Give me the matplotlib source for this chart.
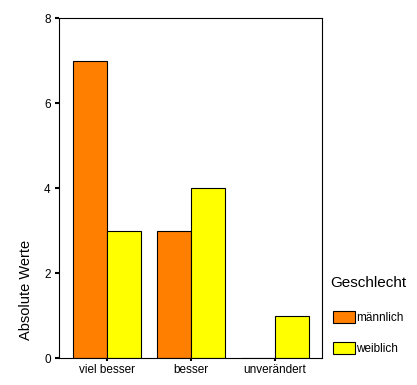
import matplotlib
matplotlib.use("Agg")
import matplotlib.pyplot as plt
from matplotlib.patches import Patch
import numpy as np

categories = ["viel besser", "besser", "unverändert"]
maennlich = [7, 3, 0]
weiblich = [3, 4, 1]
yticks = [0, 2, 4, 6, 8]

plt.rcParams["font.family"] = ["Liberation Sans", "DejaVu Sans"]

fig = plt.figure(figsize=(4.17, 3.85), dpi=100)
ax = fig.add_axes([0.1415, 0.0701, 0.6300, 0.8831])

x = np.arange(len(categories))
w = 0.405
ax.bar(x - w / 2, maennlich, w, color="#FF7F00", edgecolor="black", linewidth=0.8)
ax.bar(x + w / 2, weiblich, w, color="#FFFF00", edgecolor="black", linewidth=0.8)

ax.set_xlim(-0.571, 2.56)
ax.set_ylim(0, 8)
ax.set_xticks(x)
ax.set_xticklabels(categories, fontsize=8.5)
ax.set_yticks(yticks)
ax.set_yticklabels([str(v) for v in yticks], fontsize=8.5)
ax.tick_params(axis="y", length=3, width=1.5, pad=3)
ax.tick_params(axis="x", length=2, width=1.5, pad=2)
for s in ax.spines.values():
    s.set_linewidth(0.8)

ax.set_ylabel("Absolute Werte", fontsize=10.5)
ax.yaxis.set_label_coords(-0.1, 0.2)

handles = [
    Patch(facecolor="#FF7F00", edgecolor="black", linewidth=0.8),
    Patch(facecolor="#FFFF00", edgecolor="black", linewidth=0.8),
]
fig.text(0.791, 0.265, "Geschlecht", fontsize=11, va="center", ha="left")
leg = fig.legend(handles, ["männlich", "weiblich"], loc="upper left",
                 bbox_to_anchor=(0.799, 0.192), frameon=False, fontsize=8.5,
                 handlelength=1.86, handleheight=1.19, handletextpad=0.05,
                 labelspacing=1.55, borderaxespad=0, borderpad=0)

fig.savefig("out.png", dpi=100)
